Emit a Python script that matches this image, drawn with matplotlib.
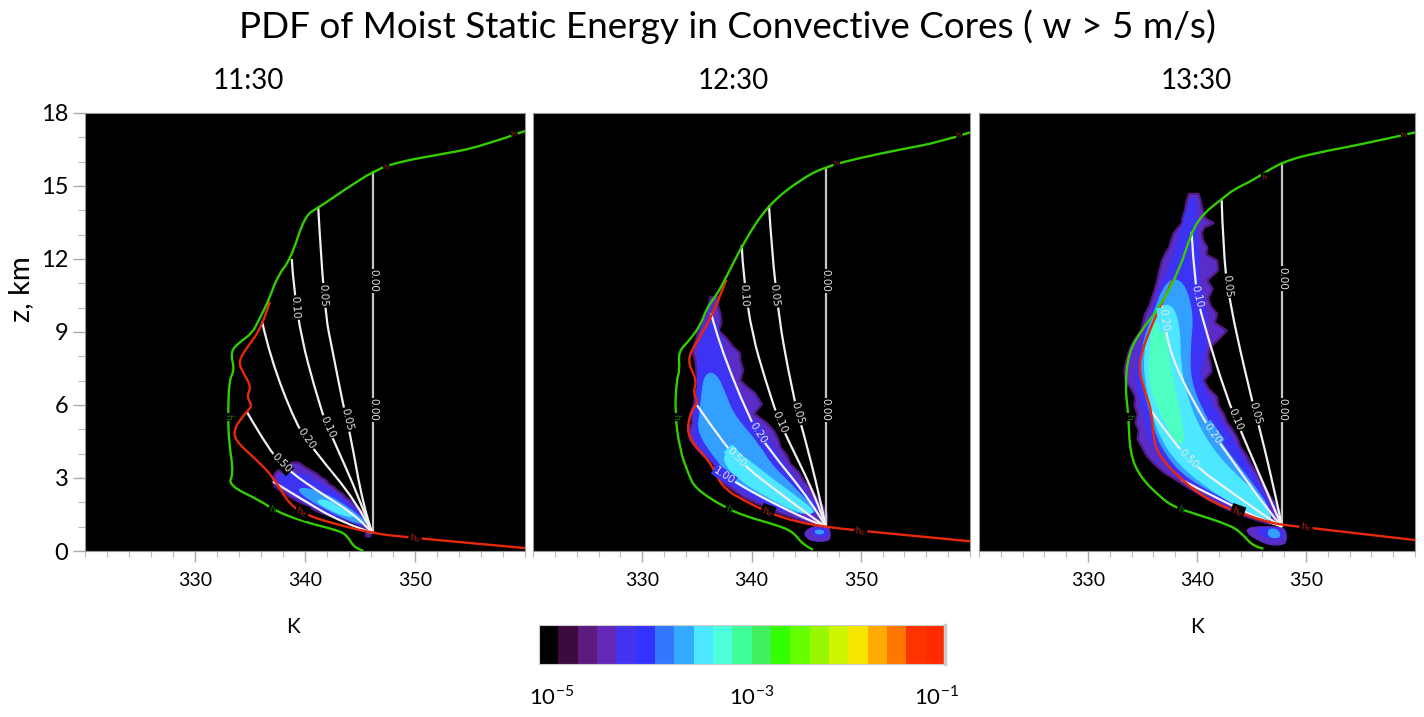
import numpy as np
import matplotlib
matplotlib.use("Agg")
import matplotlib.pyplot as plt
from matplotlib.path import Path
from matplotlib.patches import PathPatch

plt.rcParams["font.family"] = ["Lato", "DejaVu Sans"]

W, H = 1424, 717

PANEL_TITLES = ["11:30", "12:30", "13:30"]
X_TICKS = [330, 340, 350]
Y_TICKS = [0, 3, 6, 9, 12, 15, 18]
CBAR_COLORS = ["#000000", "#3c0a3c", "#5f1a80", "#6328b8", "#4433f0", "#3333ff", "#3377ff",
               "#33aaff", "#4de8ff", "#4dffdc", "#40ff99", "#40f060", "#33ff00", "#66ff00",
               "#99f500", "#ccf500", "#f5e600", "#ffaa00", "#ff7700", "#ff3300", "#ff2a00"]

# (z km, left K, right K) of each pdf band
P1_PURPLE = [(0.62, 345.5, 345.9), (0.86, 345.5, 345.9), (1.14, 344.7, 345.8), (1.28, 343.7, 345.7), (1.41, 342.6, 345.45),
             (1.55, 341.6, 345.3), (1.68, 340.9, 345.0), (1.82, 340.3, 344.8), (1.96, 339.7, 344.4), (2.09, 339.2, 344.1),
             (2.23, 338.6, 343.6), (2.36, 338.2, 343.4), (2.5, 337.7, 342.9), (2.64, 337.3, 342.6), (2.78, 337.1, 342.1),
             (2.92, 337.0, 341.9), (3.05, 337.1, 341.4), (3.2, 337.2, 341.0), (3.33, 337.5, 340.5), (3.48, 338.0, 339.9),
             (3.65, 338.8, 339.4)]
P1_BLUE = [(1.0, 345.2, 345.7), (1.28, 343.8, 345.5), (1.68, 341.4, 344.6), (2.09, 339.55, 343.6),
           (2.5, 338.2, 342.4), (2.9, 337.5, 340.8), (3.2, 338.0, 339.85)]
P1_LIGHT = [(1.14, 344.7, 345.6), (1.41, 343.3, 345.0), (1.82, 341.5, 343.8), (2.23, 340.0, 342.4),
            (2.57, 339.25, 340.5)]
P1_CYAN = [(1.41, 343.8, 344.7), (1.75, 342.0, 343.2), (2.09, 340.9, 342.1)]

P2_PURPLE = [(1.14, 345.3, 346.85), (1.35, 344.0, 346.9), (1.55, 342.6, 346.85), (1.9, 340.8, 346.4), (2.23, 339.2, 345.9),
             (2.6, 338.0, 345.4), (2.92, 337.1, 344.7), (3.25, 336.9, 344.3), (3.6, 336.5, 343.5), (3.95, 335.5, 343.2),
             (4.29, 334.8, 342.6), (4.62, 334.3, 342.4), (4.97, 334.2, 342.0), (5.3, 334.5, 341.3), (5.66, 334.36, 340.2),
             (6.05, 334.7, 340.9), (6.5, 334.8, 340.3), (6.75, 335.1, 339.6), (7.03, 335.0, 338.93), (7.45, 334.9, 339.2),
             (7.85, 334.8, 338.93), (8.15, 334.6, 338.9), (8.4, 334.66, 338.3), (8.75, 334.9, 337.7), (9.08, 335.1, 336.95),
             (9.4, 335.4, 337.2), (9.77, 335.73, 337.1), (10.1, 336.0, 336.9), (10.45, 336.2, 336.95)]
P2_BLUE = [(1.55, 343.2, 346.55), (2.23, 339.85, 345.3), (2.92, 337.56, 344.1), (3.6, 336.65, 342.9),
           (4.29, 335.1, 342.0), (4.97, 334.66, 340.8), (5.66, 334.8, 339.54), (7.03, 335.1, 338.3),
           (8.4, 335.1, 337.4), (9.63, 336.2, 336.65)]
P2_LIGHT = [(1.55, 343.8, 346.25), (2.23, 340.8, 344.7), (2.92, 338.3, 343.2), (3.6, 337.1, 341.7),
            (4.29, 335.9, 340.8), (4.97, 335.1, 339.54), (5.66, 335.27, 338.3), (6.34, 335.42, 337.7),
            (7.3, 335.73, 336.8)]
P2_CYAN = [(1.55, 344.4, 346.0), (2.23, 341.37, 344.1), (2.92, 338.93, 342.0), (3.47, 337.7, 340.46),
           (4.0, 337.4, 338.93)]
P2_BLOB = [(0.4, 345.6, 347.0), (0.55, 345.0, 347.2), (0.8, 344.8, 347.2), (1.05, 345.9, 347.0)]
P2_BLOB_IN = [(0.6, 345.7, 347.0), (0.95, 345.6, 346.9)]
P2_BLOB_CORE = [(0.7, 345.9, 346.6), (0.85, 345.8, 346.6)]

P3_PURPLE = [(1.14, 346.5, 347.6), (1.55, 343.6, 347.6), (1.9, 342.0, 347.3), (2.23, 340.6, 346.7), (2.6, 339.2, 346.3),
             (2.92, 338.1, 345.8), (3.25, 336.9, 345.4), (3.6, 336.0, 344.9), (3.95, 335.3, 344.5), (4.29, 334.9, 343.95),
             (4.62, 334.5, 343.7), (4.97, 334.6, 343.3), (5.3, 334.3, 342.7), (5.66, 334.5, 342.4), (6.0, 334.2, 341.9),
             (6.35, 334.3, 341.8), (6.7, 333.9, 341.0), (7.03, 333.4, 340.6), (7.4, 333.3, 341.3), (7.71, 333.4, 341.2),
             (8.05, 333.6, 341.0), (8.4, 333.85, 341.2), (8.75, 334.3, 342.0), (9.08, 334.8, 342.7), (9.4, 335.0, 341.6),
             (9.77, 335.2, 341.8), (10.1, 335.6, 341.2), (10.4, 335.8, 341.0), (10.8, 336.1, 341.4), (11.14, 336.3, 340.9),
             (11.55, 336.5, 341.9), (11.96, 336.75, 341.8), (12.2, 337.0, 340.8), (12.5, 337.4, 340.9), (12.8, 337.6, 340.5),
             (13.08, 337.8, 340.4), (13.3, 338.2, 340.6), (13.5, 338.6, 341.5), (13.7, 338.6, 340.7), (13.88, 338.75, 340.6),
             (14.15, 338.9, 340.4), (14.4, 339.0, 340.3), (14.7, 339.2, 340.1)]
P3_BLUE = [(1.55, 344.55, 347.0), (2.92, 338.74, 345.47), (4.29, 335.7, 343.64), (5.66, 335.08, 341.8),
           (7.03, 334.3, 340.27), (7.71, 334.46, 340.43), (8.4, 334.77, 340.9), (9.77, 335.84, 340.9),
           (11.14, 336.9, 340.1), (11.96, 337.67, 340.27), (13.08, 338.44, 339.97), (14.5, 339.36, 339.97)]
P3_LIGHT = [(1.55, 345.47, 347.0), (2.92, 339.05, 344.86), (4.29, 336.6, 342.4), (5.66, 335.7, 340.58),
            (7.03, 334.9, 339.36), (8.4, 334.9, 339.36), (9.77, 336.0, 339.66), (11.14, 337.2, 338.74)]
P3_CYAN = [(1.3, 346.1, 347.0), (2.23, 342.1, 345.8), (3.6, 338.13, 342.4), (4.97, 336.3, 340.27),
           (6.35, 335.53, 339.05), (7.71, 335.08, 338.44), (9.08, 335.53, 338.44), (10.1, 336.6, 337.83)]
P3_TEAL = [(4.43, 338.13, 338.9), (5.66, 336.6, 338.44), (7.03, 335.53, 337.83), (8.4, 335.7, 337.2),
           (9.4, 336.0, 336.9)]
P3_BLOB = [(0.25, 346.7, 347.9), (0.4, 345.8, 348.2), (0.73, 344.56, 348.2), (1.0, 344.7, 347.9)]
P3_BLOB_IN = [(0.5, 346.3, 348.0), (0.95, 345.3, 347.7)]
P3_BLOB_CORE = [(0.55, 346.6, 347.7), (0.9, 346.5, 347.4)]

# h curve (green)
P1_H_K = [345.3, 344.5, 343.8, 342.9, 339.8, 337.1, 336.1, 333.0, 333.5, 333.1, 333.0, 333.1, 333.6, 333.2,
          334.1, 335.2, 335.8, 336.7, 337.5, 338.7, 340.0, 341.2, 343.6, 346.4, 348.6, 352.3, 355.9, 360.0]
P1_H_Z = [0.01, 0.11, 0.66, 0.86, 1.21, 1.69, 2.03, 2.71, 3.19, 4.43, 5.52, 7.03, 7.44, 8.19,
          8.6, 8.95, 9.49, 10.3, 11.3, 12.0, 13.8, 14.1, 14.85, 15.66, 16.0, 16.3, 16.6, 17.26]
P2_H_K = [345.64, 344.72, 343.81, 342.28, 339.54, 337.41, 334.82, 334.21, 333.44, 332.99, 333.14, 333.44, 333.29,
          334.36, 335.42, 335.88, 336.8, 337.56, 339.4, 341.5, 344.4, 346.8, 349.9, 353.6, 357.2, 360.0]
P2_H_Z = [0.05, 0.25, 0.79, 1.07, 1.41, 1.82, 2.58, 3.19, 4.15, 5.66, 7.03, 7.44, 8.19,
          8.67, 9.36, 9.97, 10.52, 11.14, 12.78, 14.2, 15.25, 15.8, 16.15, 16.5, 16.8, 17.2]
P3_H_K = [346.1, 345.2, 344.1, 343.0, 339.66, 337.83, 336.6, 334.77, 333.85, 333.7, 333.4, 333.7, 334.9,
          336.6, 338.4, 339.5, 340.6, 342.4, 343.3, 345.2, 347.8, 351.3, 355.0, 360.0]
P3_H_Z = [0.1, 0.17, 0.73, 1.07, 1.55, 1.82, 2.23, 3.05, 4.0, 5.66, 6.75, 8.14, 9.08,
          10.04, 11.55, 13.12, 13.88, 14.5, 14.84, 15.25, 16.0, 16.4, 16.7, 17.2]

# h_s curve (red), lower part; above it runs under the green curve
P1_HS_K = [360.0, 349.3, 346.1, 342.0, 340.2, 338.6, 337.1, 335.6, 333.6, 333.6, 334.1, 334.7, 335.2, 334.7,
           335.1, 334.5, 333.9, 334.8, 336.1, 336.8]
P1_HS_Z = [0.12, 0.56, 0.73, 1.2, 1.48, 1.89, 3.05, 3.74, 4.56, 5.04, 5.38, 5.73, 5.96, 6.34,
           6.75, 7.23, 7.78, 8.4, 9.22, 10.25]
P2_HS_K = [360.0, 349.3, 346.7, 344.1, 341.7, 339.2, 337.7, 336.8, 336.2, 334.2, 334.2, 334.66, 335.1, 334.66,
           335.0, 334.05, 335.1, 336.35, 337.3, 337.7]
P2_HS_Z = [0.4, 0.86, 1.0, 1.2, 1.55, 2.1, 2.5, 3.05, 3.67, 4.63, 5.38, 5.86, 6.12, 6.5,
           7.03, 7.85, 8.67, 9.63, 10.7, 11.14]
P3_HS_K = [360.0, 349.45, 347.9, 346.4, 342.7, 340.3, 338.13, 336.6, 336.0, 335.84, 335.08, 334.6, 335.4, 336.6, 337.8]
P3_HS_Z = [0.45, 1.0, 1.07, 1.2, 1.75, 2.3, 3.12, 3.88, 4.56, 5.8, 6.68, 7.65, 8.8, 10.04, 11.14]

# dilution lines, z ascending
P1_LINES = {
    "0.00": ([346.2, 346.2], [0.75, 15.6]),
    "0.05": ([346.1, 345.3, 344.1, 343.5, 342.6, 341.7, 341.2], [0.75, 1.82, 4.84, 5.93, 8.0, 10.04, 14.15]),
    "0.10": ([346.1, 345.0, 342.6, 341.5, 339.1, 338.8], [0.75, 2.1, 4.56, 5.66, 9.7, 12.0]),
    "0.20": ([346.1, 344.8, 340.8, 339.2, 336.8, 336.1], [0.75, 1.96, 4.15, 5.18, 7.99, 9.43]),
    "0.50": ([346.1, 344.8, 341.7, 338.6, 336.8, 334.7], [0.75, 1.41, 2.3, 3.26, 4.08, 5.73]),
    "1.00": ([346.1, 343.2, 339.8, 337.1], [0.75, 1.2, 2.1, 2.85]),
}
P2_LINES = {
    "0.00": ([346.8, 346.8], [1.0, 15.78]),
    "0.05": ([346.8, 346.25, 344.7, 343.8, 342.1, 341.6], [1.0, 2.23, 4.97, 6.34, 10.59, 14.2]),
    "0.10": ([346.8, 345.9, 343.2, 342.0, 339.4, 339.1], [1.0, 2.23, 4.69, 5.92, 9.9, 12.58]),
    "0.20": ([346.8, 345.6, 341.4, 339.85, 337.0, 336.3], [1.0, 1.96, 4.29, 5.38, 8.55, 9.77]),
    "0.50": ([346.8, 345.9, 342.6, 339.4, 337.4, 335.0], [1.0, 1.27, 2.37, 3.47, 4.43, 6.0]),
    "1.00": ([346.8, 345.9, 342.6, 338.6, 336.5], [1.0, 1.14, 1.82, 2.78, 3.4]),
}
P3_LINES = {
    "0.00": ([347.8, 347.8], [1.0, 16.0]),
    "0.05": ([347.8, 347.3, 345.8, 344.86, 342.87, 342.4, 342.26], [1.0, 2.1, 4.97, 6.48, 10.45, 12.5, 14.43]),
    "0.10": ([347.8, 347.0, 344.1, 342.7, 340.6, 339.8, 339.5], [1.0, 1.82, 4.84, 6.34, 9.36, 10.86, 13.12]),
    "0.20": ([347.8, 346.7, 342.1, 340.6, 338.0, 337.06, 336.76], [1.0, 1.55, 4.43, 5.38, 7.58, 9.08, 10.1]),
    "0.50": ([347.8, 347.0, 343.3, 340.3, 338.13, 335.84], [1.0, 1.2, 2.37, 3.33, 4.29, 5.73]),
    "1.00": ([347.8, 346.4, 342.1, 338.6], [1.0, 1.2, 2.1, 2.92]),
}

# where the inline labels sit, z km
P1_LABEL_Z = {"0.00": [5.8, 11.1], "0.05": [5.4, 10.5], "0.10": [5.1, 10.0], "0.20": [4.6], "0.50": [3.6]}
P2_LABEL_Z = {"0.00": [5.8, 11.1], "0.05": [5.66, 10.5], "0.10": [5.3, 10.5], "0.20": [4.86], "0.50": [3.85], "1.00": [3.1]}
P3_LABEL_Z = {"0.00": [5.8, 11.2], "0.05": [5.66, 10.9], "0.10": [5.4, 10.45], "0.20": [4.84, 9.5], "0.50": [3.8]}


def px_axes(fig, left, top, right, bottom):
    return fig.add_axes([left / W, 1 - bottom / H, (right - left) / W, (bottom - top) / H])


def soft_path(k, z, closed=False):
    # quadratic curves with the read points as control points
    pts = np.column_stack([k, z])
    if closed:
        mids = (pts + np.roll(pts, -1, axis=0)) / 2
        verts = [mids[-1]]
        codes = [Path.MOVETO]
        for p, m in zip(pts, mids):
            verts += [p, m]
            codes += [Path.CURVE3, Path.CURVE3]
        return Path(verts, codes)
    mids = (pts[1:-1] + pts[2:]) / 2
    verts = [pts[0]]
    codes = [Path.MOVETO]
    for p, m in zip(pts[1:-1], mids):
        verts += [p, m]
        codes += [Path.CURVE3, Path.CURVE3]
    verts[-1] = pts[-1]
    if len(pts) == 2:
        verts = [pts[0], pts[1]]
        codes = [Path.MOVETO, Path.LINETO]
    return Path(verts, codes)


def soft_line(ax, k, z, color, lw, zorder):
    ax.add_patch(PathPatch(soft_path(k, z), fc="none", ec=color, lw=lw, zorder=zorder, capstyle="butt"))


def fill_band(ax, band, color, soft=True, edge=None):
    z, left, right = zip(*band)
    if soft:
        k = list(left) + list(right)[::-1]
        zz = list(z) + list(z)[::-1]
        ax.add_patch(PathPatch(soft_path(k, zz, closed=True), fc=color, ec=edge or color, lw=0.8, zorder=2))
    else:
        ax.fill_betweenx(z, left, right, facecolor=color, edgecolor=edge or color, lw=1.6, zorder=2)


def back_color(k, at, bands):
    # colour of the top band under a label
    found = "black"
    for band, color in bands:
        z, left, right = zip(*band)
        if z[0] <= at <= z[-1] and np.interp(at, z, left) <= k <= np.interp(at, z, right):
            found = color
    return found


def line_label(ax, k, z, at, text, bands):
    x0 = np.interp(at, z, k)
    x1 = np.interp(at + 0.3, z, k)
    p0 = ax.transData.transform((x0, at))
    p1 = ax.transData.transform((x1, at + 0.3))
    angle = np.degrees(np.arctan2(p1[1] - p0[1], p1[0] - p0[0])) - 180
    back = back_color(x0, at, bands)
    ax.text(x0, at, text, color="#e4e4e4", fontsize=7.5, family="DejaVu Sans", rotation=angle,
            rotation_mode="anchor", ha="center", va="center", zorder=6,
            bbox=dict(facecolor=back, edgecolor="none", pad=0.6))


def curve_label(ax, k, at_z, text, color, rotation=0, size=7.5):
    ax.text(k, at_z, text, color=color, fontsize=size, rotation=rotation, ha="center", va="center",
            zorder=7, bbox=dict(facecolor="black", edgecolor="none", pad=0.6))


def draw_panel(ax, bands, hk, hz, hsk, hsz, lines, label_z, show_y):
    ax.set_facecolor("black")
    ax.set_xlim(320, 360)
    ax.set_ylim(0, 18)

    for band, color in bands:
        if len(band) > 20:
            fill_band(ax, band, VIOLET, soft=False, edge=PURPLE)
        else:
            fill_band(ax, band, color)

    for name, (k, z) in lines.items():
        color = "#c4c4c4" if name == "0.00" else "#f0f0f0"
        soft_line(ax, k, z, color, 1.6, 4)
        for at in label_z.get(name, []):
            line_label(ax, k, z, at, name, bands)

    soft_line(ax, hsk, hsz, "#e8280a", 1.7, 5)
    soft_line(ax, hk, hz, "#33cc00", 1.7, 5)

    curve_label(ax, np.interp(5.5, hz[6:16], hk[6:16]), 5.5, "h", "#117700", 270)
    curve_label(ax, np.interp(1.72, hz, hk), 1.72, "h", "#117700", -20)
    curve_label(ax, hk[-5] + 1.0, hz[-5] + 0.12, "h", "#a02a10", 10, 6)
    curve_label(ax, 359, hz[-1] - 0.1, "h", "#a02a10", 20, 6)
    curve_label(ax, 350, np.interp(-350, [-hsk[0], -hsk[1]], [hsz[0], hsz[1]]), "h$_s$", "#b02010", -5)
    curve_label(ax, np.interp(1.6, hsz[1:8], hsk[1:8]), 1.6, "h$_e$", "#b02010", -20)

    ax.set_xticks(X_TICKS)
    ax.set_xticks(np.arange(320, 361, 2), minor=True)
    ax.tick_params(axis="x", which="major", length=8, width=1.0, color="#aaaaaa", labelsize=14, pad=7)
    ax.tick_params(axis="x", which="minor", length=4, width=0.8, color="#bbbbbb")
    if show_y:
        ax.set_yticks(Y_TICKS)
        ax.set_yticks(np.arange(0, 19, 1), minor=True)
        ax.tick_params(axis="y", which="major", length=9, width=1.0, color="#aaaaaa", labelsize=17, pad=3)
        ax.tick_params(axis="y", which="minor", length=5, width=0.8, color="#bbbbbb")
    else:
        ax.set_yticks([])
    for s in ax.spines.values():
        s.set_color("#999999")
        s.set_linewidth(0.8)


fig = plt.figure(figsize=(W / 100, H / 100), dpi=100)

ax1 = px_axes(fig, 85, 113, 525, 551)
ax2 = px_axes(fig, 533, 113, 970, 551)
ax3 = px_axes(fig, 979, 113, 1415, 551)

PURPLE, VIOLET, BLUE, LIGHT, CYAN, TEAL = "#501a80", "#5a2cc8", "#3c33f5", "#33a0ff", "#4de8ff", "#4dffc0"

draw_panel(ax1, [(P1_PURPLE, PURPLE), (P1_BLUE, BLUE), (P1_LIGHT, LIGHT), (P1_CYAN, CYAN)],
           P1_H_K, P1_H_Z, P1_HS_K, P1_HS_Z, P1_LINES, P1_LABEL_Z, True)
draw_panel(ax2, [(P2_BLOB, VIOLET), (P2_BLOB_IN, BLUE), (P2_BLOB_CORE, LIGHT),
                 (P2_PURPLE, PURPLE), (P2_BLUE, BLUE), (P2_LIGHT, LIGHT), (P2_CYAN, CYAN)],
           P2_H_K, P2_H_Z, P2_HS_K, P2_HS_Z, P2_LINES, P2_LABEL_Z, False)
draw_panel(ax3, [(P3_BLOB, VIOLET), (P3_BLOB_IN, BLUE), (P3_BLOB_CORE, LIGHT),
                 (P3_PURPLE, PURPLE), (P3_BLUE, BLUE), (P3_LIGHT, LIGHT), (P3_CYAN, CYAN), (P3_TEAL, TEAL)],
           P3_H_K, P3_H_Z, P3_HS_K, P3_HS_Z, P3_LINES, P3_LABEL_Z, False)

cax = px_axes(fig, 539, 625, 945, 664)
cax.imshow([list(range(len(CBAR_COLORS)))], aspect="auto",
           cmap=matplotlib.colors.ListedColormap(CBAR_COLORS))
cax.set_xticks([])
cax.set_yticks([])
for s in cax.spines.values():
    s.set_color("#cccccc")
    s.set_linewidth(0.8)
cax.spines["right"].set_linewidth(2.5)


def ftext(x, y, s, **kw):
    fig.text(x / W, 1 - y / H, s, ha=kw.pop("ha", "center"), va="center", **kw)


ftext(727, 27, "PDF of Moist Static Energy in Convective Cores ( w > 5 m/s)", fontsize=26.6)
ftext(248, 81, PANEL_TITLES[0], fontsize=20)
ftext(733, 81, PANEL_TITLES[1], fontsize=20)
ftext(1196, 81, PANEL_TITLES[2], fontsize=20)
ftext(21, 289, "z, km", fontsize=21, rotation=90)
ftext(293, 627, "K", fontsize=15)
ftext(1197, 627, "K", fontsize=15)
ftext(552, 697, r"10$^{\mathregular{-5}}$", fontsize=16)
ftext(752, 697, r"10$^{\mathregular{-3}}$", fontsize=16)
ftext(936, 697, r"10$^{\mathregular{-1}}$", fontsize=16)

fig.savefig("out.png", dpi=100)
